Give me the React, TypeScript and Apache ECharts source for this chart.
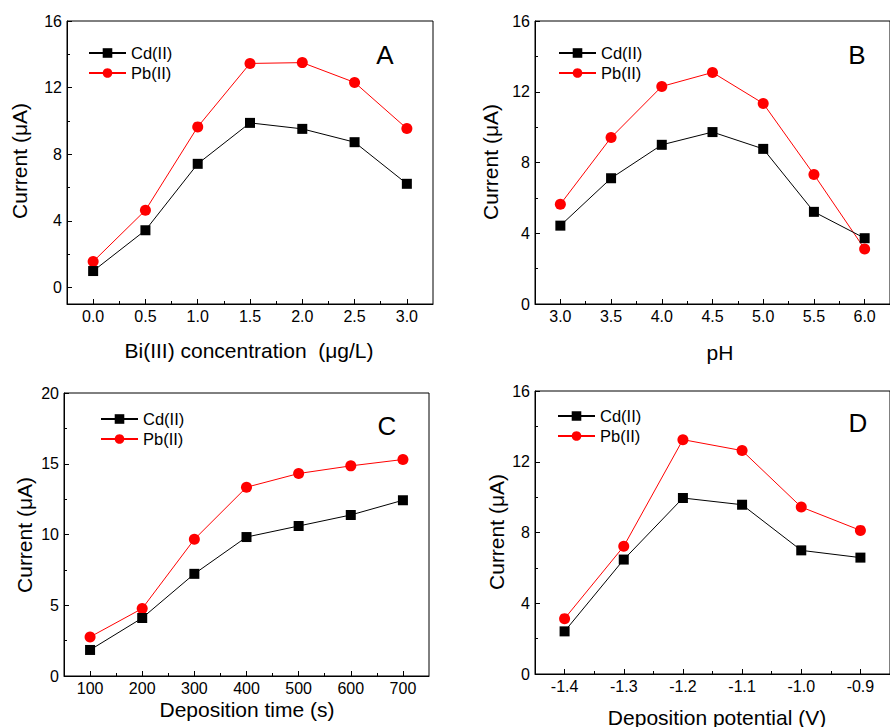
import React, { useEffect, useRef } from "react";
import * as echarts from "echarts";

// ---- Data ----
const xA = [0, 0.5, 1.0, 1.5, 2.0, 2.5, 3.0];
const cdA = [0.98, 3.43, 7.42, 9.88, 9.52, 8.72, 6.22];
const pbA = [1.55, 4.63, 9.64, 13.45, 13.5, 12.31, 9.54];

const xB = [3.0, 3.5, 4.0, 4.5, 5.0, 5.5, 6.0];
const cdB = [4.43, 7.11, 9.0, 9.72, 8.77, 5.21, 3.72];
const pbB = [5.64, 9.41, 12.3, 13.09, 11.34, 7.32, 3.11];

const xC = [100, 200, 300, 400, 500, 600, 700];
const cdC = [1.84, 4.1, 7.22, 9.82, 10.6, 11.38, 12.42];
const pbC = [2.76, 4.77, 9.66, 13.34, 14.31, 14.85, 15.3];

const xD = [-1.4, -1.3, -1.2, -1.1, -1.0, -0.9];
const cdD = [2.41, 6.47, 9.95, 9.57, 6.99, 6.58];
const pbD = [3.13, 7.22, 13.25, 12.63, 9.44, 8.12];

// ---- Ticks ----
const xTicksA = [0, 0.5, 1.0, 1.5, 2.0, 2.5, 3.0];
const xMinorA = [0.25, 0.75, 1.25, 1.75, 2.25, 2.75];
const yTicksA = [0, 4, 8, 12, 16];
const yMinorA = [2, 6, 10, 14];

const xTicksB = [3.0, 3.5, 4.0, 4.5, 5.0, 5.5, 6.0];
const xMinorB = [3.25, 3.75, 4.25, 4.75, 5.25, 5.75];
const yTicksB = [0, 4, 8, 12, 16];
const yMinorB = [2, 6, 10, 14];

const xTicksC = [100, 200, 300, 400, 500, 600, 700];
const xMinorC = [150, 250, 350, 450, 550, 650];
const yTicksC = [0, 5, 10, 15, 20];
const yMinorC = [2.5, 7.5, 12.5, 17.5];

const xTicksD = [-1.4, -1.3, -1.2, -1.1, -1.0, -0.9];
const xMinorD = [-1.35, -1.25, -1.15, -1.05, -0.95];
const yTicksD = [0, 4, 8, 12, 16];
const yMinorD = [2, 6, 10, 14];

const FONT = "'Liberation Sans', Arial, sans-serif";

const panels = [
  {
    grid: { left: 67, top: 21, width: 366, height: 283 },
    x: xA, cd: cdA, pb: pbA,
    xMin: -0.25, xMax: 3.25, yMin: -1, yMax: 16,
    xTicks: xTicksA, xMinor: xMinorA, yTicks: yTicksA, yMinor: yMinorA,
    xFmt: (v: number) => v.toFixed(1),
    xTitle: "Bi(III) concentration  (μg/L)", xTitlePos: [249, 350],
    yTitlePos: [19, 161],
    letter: "A", letterPos: [385, 55],
    legend: { left: 88, top: 43 },
  },
  {
    grid: { left: 535, top: 21, width: 365, height: 283 },
    x: xB, cd: cdB, pb: pbB,
    xMin: 2.75, xMax: 6.25, yMin: 0, yMax: 16,
    xTicks: xTicksB, xMinor: xMinorB, yTicks: yTicksB, yMinor: yMinorB,
    xFmt: (v: number) => v.toFixed(1),
    xTitle: "pH", xTitlePos: [720, 352],
    yTitlePos: [490, 162],
    letter: "B", letterPos: [857, 55],
    legend: { left: 558, top: 43 },
  },
  {
    grid: { left: 64, top: 393, width: 365, height: 283 },
    x: xC, cd: cdC, pb: pbC,
    xMin: 50, xMax: 750, yMin: 0, yMax: 20,
    xTicks: xTicksC, xMinor: xMinorC, yTicks: yTicksC, yMinor: yMinorC,
    xFmt: (v: number) => String(Math.round(v)),
    xTitle: "Deposition time (s)", xTitlePos: [247, 709],
    yTitlePos: [24.5, 535],
    letter: "C", letterPos: [387, 426],
    legend: { left: 100, top: 409 },
  },
  {
    grid: { left: 535, top: 391, width: 365, height: 283 },
    x: xD, cd: cdD, pb: pbD,
    xMin: -1.45, xMax: -0.85, yMin: 0, yMax: 16,
    xTicks: xTicksD, xMinor: xMinorD, yTicks: yTicksD, yMinor: yMinorD,
    xFmt: (v: number) => v.toFixed(1),
    xTitle: "Deposition potential (V)", xTitlePos: [717, 717],
    yTitlePos: [496, 532],
    letter: "D", letterPos: [858, 423],
    legend: { left: 557, top: 406 },
  },
];

function buildOption() {
  const grids: any[] = [];
  const xAxes: any[] = [];
  const yAxes: any[] = [];
  const series: any[] = [];
  const legends: any[] = [];
  const graphics: any[] = [];

  panels.forEach((p, i) => {
    grids.push({
      ...p.grid,
      show: true,
      borderColor: "#000",
      borderWidth: 1,
      backgroundColor: "transparent",
      containLabel: false,
    });
    const xMainIdx = xAxes.length;
    xAxes.push({
      type: "value",
      gridIndex: i,
      min: p.xMin,
      max: p.xMax,
      position: "bottom",
      axisLine: { show: true, onZero: false, lineStyle: { color: "#000", width: 1 } },
      axisTick: { show: true, inside: true, length: 5, customValues: p.xTicks, lineStyle: { color: "#000" } },
      axisLabel: {
        show: true,
        customValues: p.xTicks,
        formatter: p.xFmt,
        color: "#000",
        fontSize: 16,
        fontFamily: FONT,
        margin: 4,
      },
      splitLine: { show: false },
    });
    xAxes.push({
      type: "value",
      gridIndex: i,
      min: p.xMin,
      max: p.xMax,
      position: "bottom",
      offset: 0,
      axisLine: { show: false, onZero: false },
      axisTick: { show: true, inside: true, length: 3, customValues: p.xMinor, lineStyle: { color: "#000" } },
      axisLabel: { show: false },
      splitLine: { show: false },
    });
    const yMainIdx = yAxes.length;
    yAxes.push({
      type: "value",
      gridIndex: i,
      min: p.yMin,
      max: p.yMax,
      position: "left",
      axisLine: { show: true, onZero: false, lineStyle: { color: "#000", width: 1 } },
      axisTick: { show: true, inside: true, length: 5, customValues: p.yTicks, lineStyle: { color: "#000" } },
      axisLabel: {
        show: true,
        customValues: p.yTicks,
        color: "#000",
        fontSize: 16,
        fontFamily: FONT,
        margin: 5,
      },
      splitLine: { show: false },
    });
    yAxes.push({
      type: "value",
      gridIndex: i,
      min: p.yMin,
      max: p.yMax,
      position: "left",
      offset: 0,
      axisLine: { show: false, onZero: false },
      axisTick: { show: true, inside: true, length: 3, customValues: p.yMinor, lineStyle: { color: "#000" } },
      axisLabel: { show: false },
      splitLine: { show: false },
    });

    series.push({
      name: "Cd(II)",
      type: "line",
      xAxisIndex: xMainIdx,
      yAxisIndex: yMainIdx,
      data: p.x.map((xv, k) => [xv, p.cd[k]]),
      symbol: "rect",
      symbolSize: 10,
      color: "#000",
      lineStyle: { color: "#000", width: 1 },
      itemStyle: { color: "#000" },
      z: 3,
    });
    series.push({
      name: "Pb(II)",
      type: "line",
      xAxisIndex: xMainIdx,
      yAxisIndex: yMainIdx,
      data: p.x.map((xv, k) => [xv, p.pb[k]]),
      symbol: "circle",
      symbolSize: 11,
      color: "#ff0000",
      lineStyle: { color: "#ff0000", width: 1 },
      itemStyle: { color: "#ff0000" },
      z: 2,
    });

    legends.push({
      data: ["Cd(II)", "Pb(II)"],
      orient: "vertical",
      left: p.legend.left,
      top: p.legend.top,
      padding: 0,
      itemGap: 0,
      itemWidth: 37,
      itemHeight: 12,
      selectedMode: false,
      textStyle: { color: "#000", fontSize: 16.5, fontFamily: FONT, lineHeight: 20 },
    });

    graphics.push({
      type: "text",
      x: p.xTitlePos[0],
      y: p.xTitlePos[1],
      style: {
        text: p.xTitle,
        fill: "#000",
        font: `21px ${FONT}`,
        align: "center",
        verticalAlign: "middle",
      },
    });
    graphics.push({
      type: "text",
      x: p.yTitlePos[0],
      y: p.yTitlePos[1],
      rotation: Math.PI / 2,
      style: {
        text: "Current (μA)",
        fill: "#000",
        font: `21px ${FONT}`,
        align: "center",
        verticalAlign: "middle",
      },
    });
    graphics.push({
      type: "text",
      x: p.letterPos[0],
      y: p.letterPos[1],
      style: {
        text: p.letter,
        fill: "#000",
        font: `26px ${FONT}`,
        align: "center",
        verticalAlign: "middle",
      },
    });
  });

  return {
    animation: false,
    backgroundColor: "#fff",
    grid: grids,
    xAxis: xAxes,
    yAxis: yAxes,
    series,
    legend: legends,
    graphic: graphics,
  };
}

export default function App() {
  const ref = useRef<HTMLDivElement>(null);
  useEffect(() => {
    if (!ref.current) return;
    const chart = echarts.init(ref.current, undefined, { renderer: "svg" });
    chart.setOption(buildOption() as any);
    return () => chart.dispose();
  }, []);
  return (
    <div
      ref={ref}
      style={{ position: "absolute", left: 0, top: 0, width: 890, height: 727 }}
    />
  );
}
